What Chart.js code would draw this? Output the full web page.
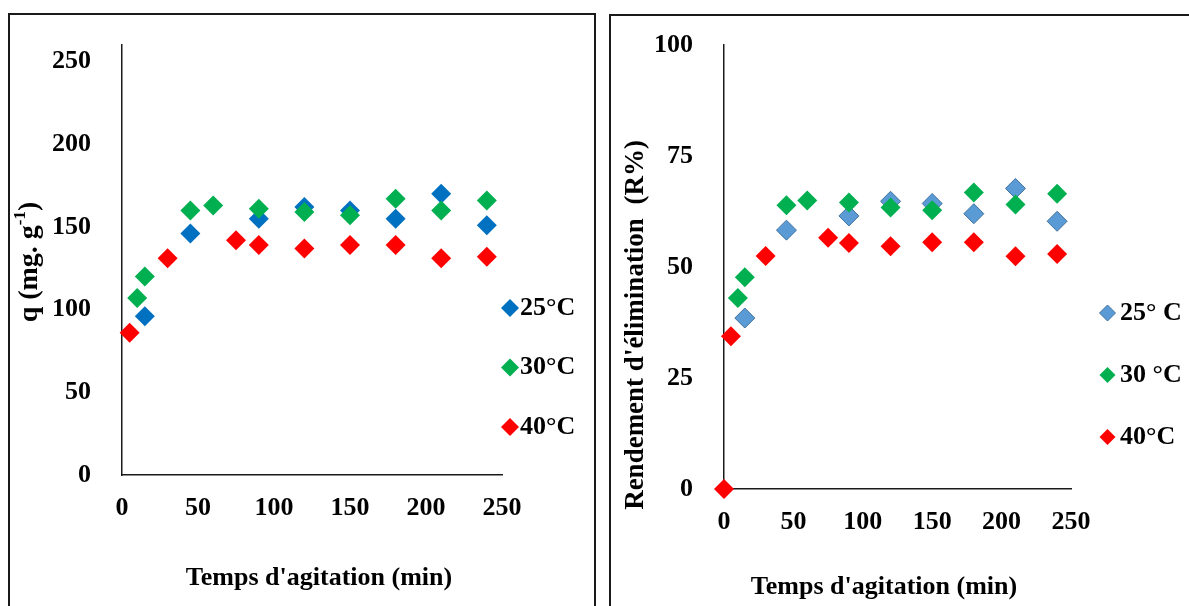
<!DOCTYPE html>
<html>
<head>
<meta charset="utf-8">
<script src="https://cdn.jsdelivr.net/npm/chart.js@4/dist/chart.umd.min.js"></script>
<style>
  body { margin: 0; background: #fff; overflow: hidden; }
  .panel { position: absolute; border: 2px solid #1a1a1a; overflow: hidden; background: #fff; }
  #qPanel { left: 8px; top: 13px; width: 584px; height: 620px; }
  #rPanel { left: 609px; top: 14px; width: 600px; height: 620px; }
  canvas { display: block; }
</style>
</head>
<body>
<div id="qPanel" class="panel"><canvas id="qChart" width="584" height="600"></canvas></div>
<div id="rPanel" class="panel"><canvas id="rChart" width="578" height="600"></canvas></div>

<script>
// agitation time (min) for each temperature series
const time25 = [15, 45, 90, 120, 150, 180, 210, 240];
const time30 = [10, 15, 45, 60, 90, 120, 150, 180, 210, 240];
const time40 = [5, 30, 75, 90, 120, 150, 180, 210, 240];
const time40R = [0, 5, 30, 75, 90, 120, 150, 180, 210, 240];

// adsorbed quantity q (mg/g)
const q25 = [96, 146, 155, 162, 160, 155, 170, 151];
const q30 = [107, 120, 160, 163, 161, 159, 157, 167, 160, 166];
const q40 = [86, 131, 142, 139, 137, 139, 139, 131, 132];

// removal yield R (%)
const r25 = [38.5, 58.3, 61.5, 64.8, 64.3, 62.0, 67.7, 60.3];
const r30 = [43, 47.7, 63.9, 65, 64.5, 63.4, 62.8, 66.8, 64.1, 66.5];
const r40 = [0, 34.4, 52.5, 56.6, 55.4, 54.7, 55.6, 55.6, 52.4, 52.9];

const qLabels = ['25°C', '30°C', '40°C'];
const rLabels = ['25° C', '30 °C', '40°C'];
const timeTicks = [0, 50, 100, 150, 200, 250];

const FONT = "'Liberation Serif', 'Times New Roman', serif";
const BLUE = '#0070C0', BLUE_LIGHT = '#5B9BD5', GREEN = '#00B050', RED = '#FF0000';

const toPoints = (xs, ys) => xs.map((x, i) => ({ x, y: ys[i] }));

// axis titles + legend drawn beside the plot
const panelText = {
  id: 'panelText',
  afterDraw(chart, args, opts) {
    const ctx = chart.ctx;
    ctx.save();
    ctx.fillStyle = '#000';
    ctx.textBaseline = 'middle';

    ctx.font = `bold ${opts.size}px ${FONT}`;
    ctx.textAlign = 'center';
    ctx.fillText(opts.xTitle.text, opts.xTitle.x, opts.xTitle.y);

    // rotated y title, parts may be superscript
    const yt = opts.yTitle;
    const mainFont = `bold ${yt.size}px ${FONT}`;
    const supFont = `bold ${Math.round(yt.size * 0.62)}px ${FONT}`;
    let total = 0;
    yt.parts.forEach(p => {
      ctx.font = p.sup ? supFont : mainFont;
      p.w = ctx.measureText(p.text).width;
      total += p.w;
    });
    ctx.translate(yt.x, yt.y);
    ctx.rotate(-Math.PI / 2);
    ctx.textAlign = 'left';
    let cx = -total / 2;
    yt.parts.forEach(p => {
      ctx.font = p.sup ? supFont : mainFont;
      ctx.fillText(p.text, cx, p.sup ? -yt.size * 0.33 : 0);
      cx += p.w;
    });
    ctx.setTransform(1, 0, 0, 1, 0, 0);

    const lg = opts.legend;
    ctx.font = `bold ${opts.size}px ${FONT}`;
    chart.data.datasets.forEach((ds, i) => {
      const y = lg.y + i * lg.gap;
      ctx.fillStyle = ds.backgroundColor;
      ctx.strokeStyle = ds.borderColor;
      ctx.lineWidth = ds.borderWidth;
      Chart.helpers.drawPoint(ctx, { pointStyle: 'rectRot', radius: lg.radius, borderWidth: ds.borderWidth }, lg.x, y);
      ctx.fillStyle = '#000';
      ctx.textAlign = 'left';
      ctx.fillText(ds.label, lg.textX, y);
    });
    ctx.restore();
  }
};

const series = (label, data, fill, border, bw, order) => ({
  label, data,
  backgroundColor: fill,
  borderColor: border,
  borderWidth: bw,
  pointStyle: 'rectRot',
  pointRadius: 10,
  pointHoverRadius: 10,
  order,
  clip: false
});

const tickFont = { family: FONT, size: 26, weight: 'bold' };

// fixed plot box: no extra room reserved for the edge tick labels
const noEdgePadding = s => {
  s.paddingTop = 0; s.paddingBottom = 0;
  s.paddingLeft = 0; s.paddingRight = 0;
};

const makeChart = (id, datasets, yMax, yStep, area, text) => {
  new Chart(document.getElementById(id).getContext('2d'), {
    type: 'scatter',
    data: { datasets },
    options: {
      responsive: false,
      animation: false,
      devicePixelRatio: 1,
      layout: { padding: { top: area.top, right: area.right, bottom: 0, left: 0 } },
      plugins: { legend: { display: false }, tooltip: { enabled: false }, panelText: text },
      scales: {
        x: {
          type: 'linear', min: 0, max: 250,
          afterFit: s => { s.height = area.xHeight; noEdgePadding(s); },
          afterBuildTicks: s => { s.ticks = timeTicks.map(v => ({ value: v })); },
          grid: { display: false },
          border: { display: true, color: '#1a1a1a', width: 1.5 },
          ticks: { color: '#000', font: tickFont, padding: 10, maxRotation: 0 }
        },
        y: {
          type: 'linear', min: 0, max: yMax,
          afterFit: s => { s.width = area.left; noEdgePadding(s); },
          grid: { display: false },
          border: { display: true, color: '#1a1a1a', width: 1.5 },
          ticks: { color: '#000', font: tickFont, padding: 23, stepSize: yStep, includeBounds: false }
        }
      }
    },
    plugins: [panelText]
  });
};

makeChart('qChart', [
  series(qLabels[0], toPoints(time25, q25), BLUE, BLUE, 0, 3),
  series(qLabels[1], toPoints(time30, q30), GREEN, GREEN, 0, 2),
  series(qLabels[2], toPoints(time40, q40), RED, RED, 0, 1)
], 260, 50,
{ left: 112, top: 30, right: 92, xHeight: 140 },
{
  size: 26,
  xTitle: { text: "Temps d'agitation (min)", x: 309, y: 563 },
  yTitle: { size: 28, x: 20, y: 247, parts: [{ text: 'q (mg. g' }, { text: '-1', sup: true }, { text: ')' }] },
  legend: { x: 500, y: 293, gap: 59.5, radius: 9, textX: 510 }
});

makeChart('rChart', [
  series(rLabels[0], toPoints(time25, r25), BLUE_LIGHT, '#41719C', 1, 3),
  series(rLabels[1], toPoints(time30, r30), GREEN, GREEN, 0, 2),
  series(rLabels[2], toPoints(time40R, r40), RED, RED, 0, 1)
], 100, 25,
{ left: 113, top: 29, right: 118, xHeight: 127 },
{
  size: 26,
  xTitle: { text: "Temps d'agitation (min)", x: 273, y: 571 },
  yTitle: { size: 27, x: 25, y: 309, parts: [{ text: "Rendement d'élimination  (R%)" }] },
  legend: { x: 496.5, y: 297, gap: 62, radius: 8, textX: 509 }
});
</script>
</body>
</html>
